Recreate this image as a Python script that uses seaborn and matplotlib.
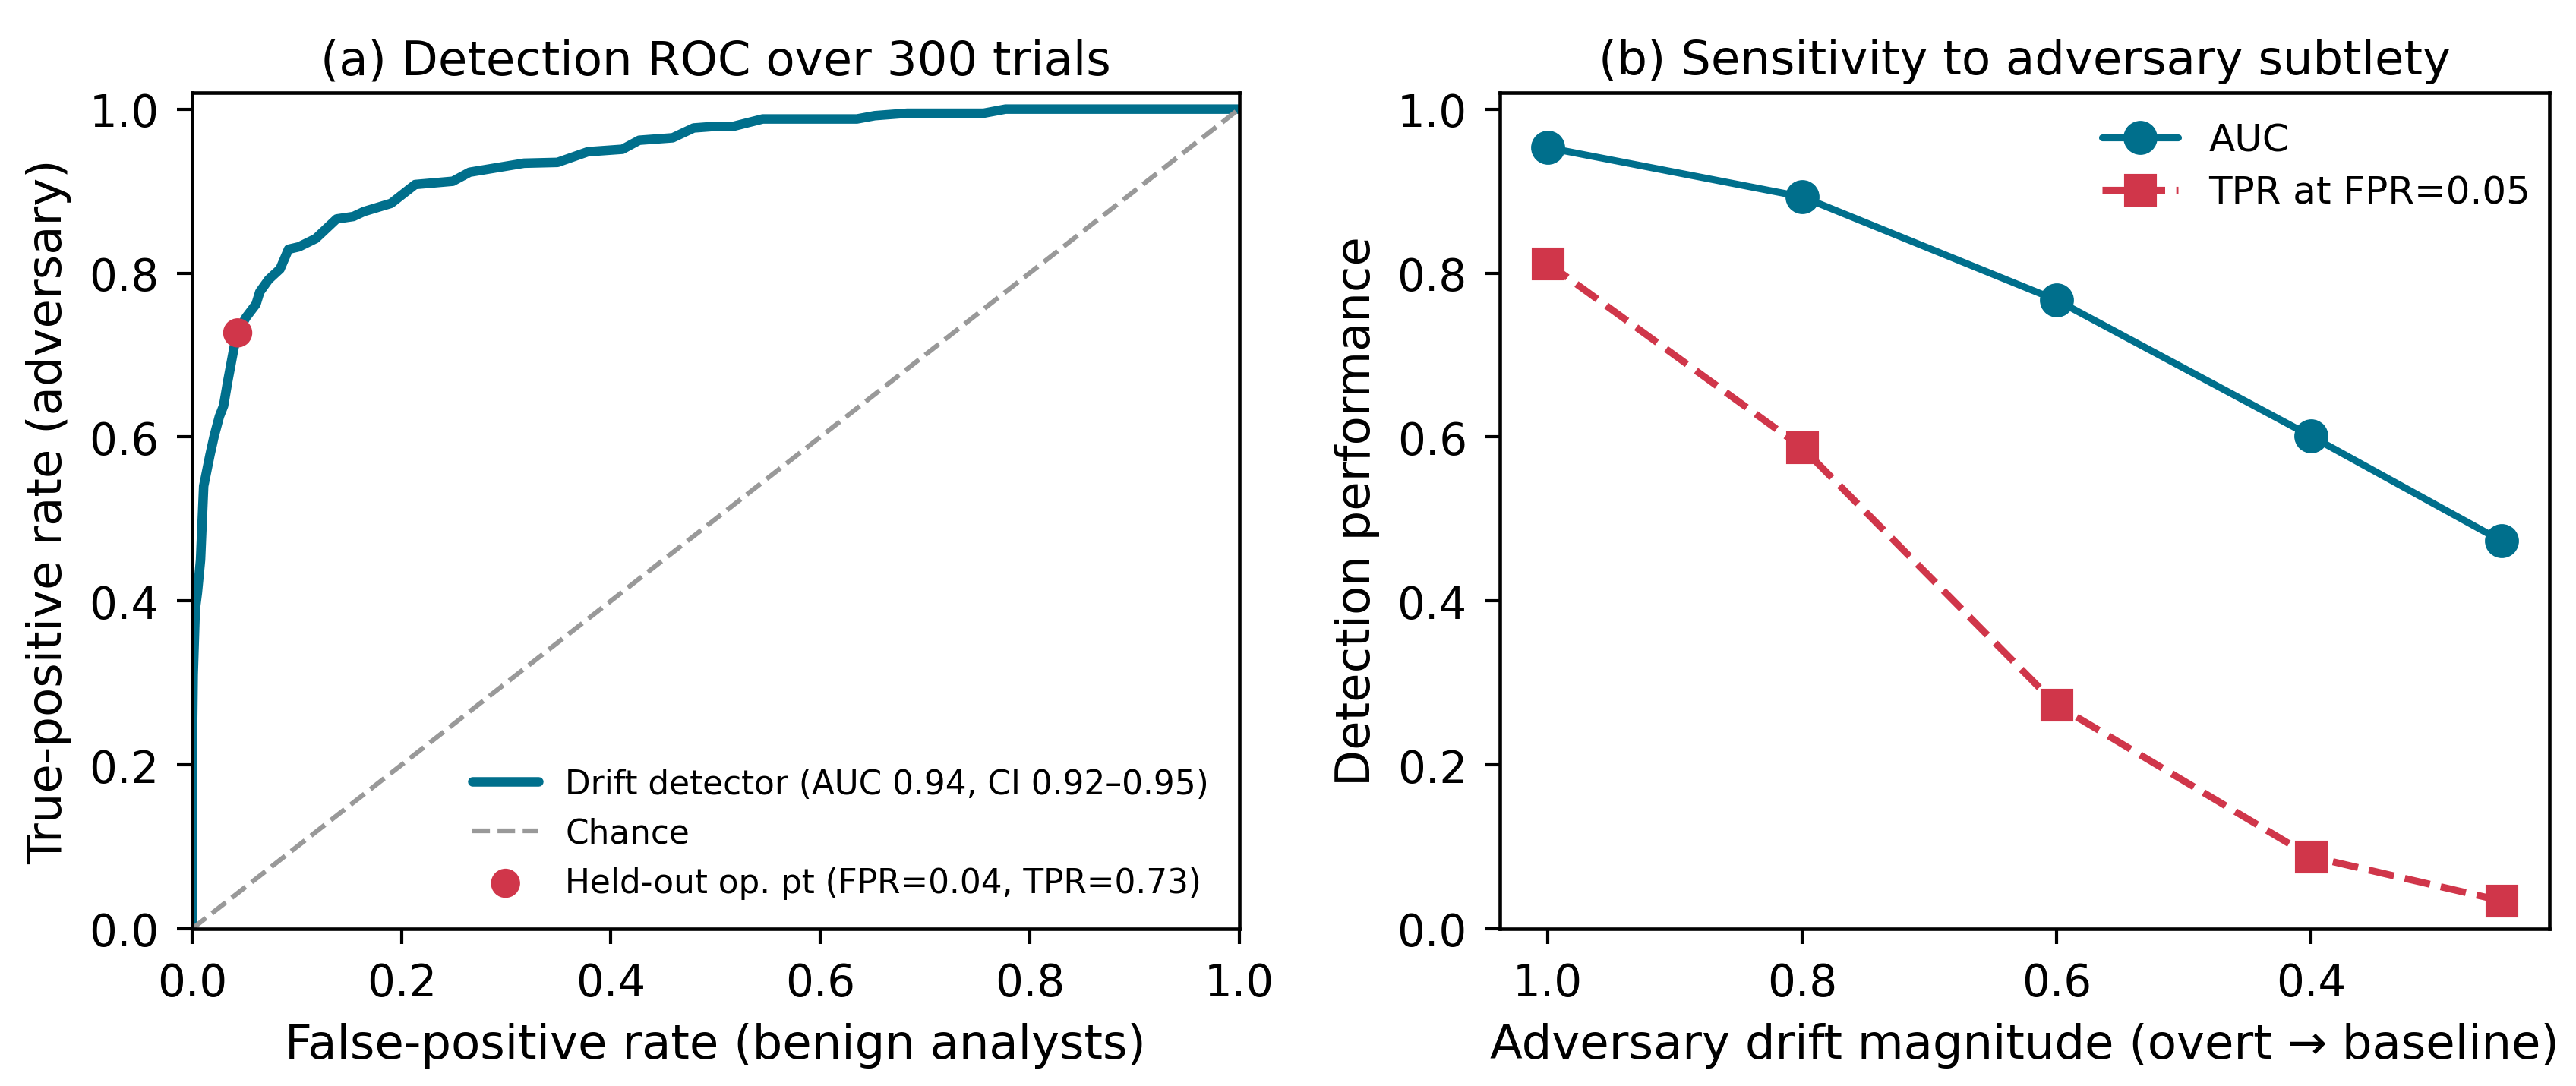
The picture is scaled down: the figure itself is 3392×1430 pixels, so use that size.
import numpy as np
import pandas as pd
import matplotlib
matplotlib.use("Agg")
import matplotlib.pyplot as plt
import seaborn as sns

# ---- data ----
roc_fpr = [0.0, 0.0, 0.001, 0.003, 0.005, 0.008, 0.011, 0.017, 0.021, 0.026, 0.030, 0.034,
           0.040, 0.0435, 0.0515, 0.061, 0.0646, 0.073, 0.084, 0.092, 0.102, 0.118, 0.138,
           0.154, 0.164, 0.190, 0.213, 0.249, 0.265, 0.317, 0.349, 0.378, 0.411, 0.427,
           0.459, 0.479, 0.500, 0.517, 0.545, 0.635, 0.652, 0.683, 0.756, 0.777, 1.0]
roc_tpr = [0.0, 0.20, 0.31, 0.39, 0.41, 0.45, 0.54, 0.578, 0.601, 0.625, 0.638, 0.668,
           0.709, 0.728, 0.746, 0.762, 0.777, 0.792, 0.805, 0.829, 0.832, 0.842, 0.866,
           0.869, 0.875, 0.885, 0.908, 0.912, 0.923, 0.934, 0.935, 0.948, 0.951, 0.962,
           0.965, 0.977, 0.979, 0.979, 0.988, 0.988, 0.992, 0.995, 0.995, 1.0, 1.0]
chance_x = [0.0, 1.0]
chance_y = [0.0, 1.0]
op_fpr = [0.0435]
op_tpr = [0.727]

drift_mag = [1.0, 0.8, 0.6, 0.4, 0.25]
auc_vals = [0.953, 0.893, 0.767, 0.601, 0.473]
tpr05_vals = [0.812, 0.587, 0.273, 0.088, 0.034]

label_roc = "Drift detector (AUC 0.94, CI 0.92\u20130.95)"
label_chance = "Chance"
label_op = "Held-out op. pt (FPR=0.04, TPR=0.73)"

TEAL = "#006f8c"
RED = "#d0364a"
GRAY = "#999999"

sns.set_style("ticks")
plt.rcParams["font.family"] = ["DejaVu Sans"]
plt.rcParams.update({
    "axes.edgecolor": "black",
    "axes.linewidth": 1.1,
    "xtick.color": "black",
    "ytick.color": "black",
    "xtick.major.size": 4.8,
    "ytick.major.size": 4.8,
    "xtick.major.width": 1.0,
    "ytick.major.width": 1.0,
    "xtick.major.pad": 5.6,
    "ytick.major.pad": 5.6,
    "axes.labelpad": 5.5,
    "axes.labelcolor": "black",
    "text.color": "black",
})

FS = 15.0
TS = 13.9
fig = plt.figure(figsize=(3392 / 300, 1431 / 300), dpi=300)
ax1 = fig.add_axes([0.0746, 0.1447, 0.4064, 0.7693])
ax2 = fig.add_axes([0.5823, 0.1447, 0.4074, 0.7693])

# ---- panel a ----
sns.lineplot(x=roc_fpr, y=roc_tpr, sort=False, estimator=None, color=TEAL, lw=3,
             ax=ax1, label=label_roc)
sns.lineplot(x=chance_x, y=chance_y, color=GRAY, lw=1.5, linestyle="--", ax=ax1,
             label=label_chance)
sns.scatterplot(x=op_fpr, y=op_tpr, color=RED, s=85, edgecolor="none", zorder=5,
                ax=ax1, label=label_op)
ax1.set_xlim(0, 1)
ax1.set_ylim(0, 1.02)
ax1.set_xlabel("False-positive rate (benign analysts)", fontsize=FS)
ax1.set_ylabel("True-positive rate (adversary)", fontsize=FS)
ax1.set_title("(a) Detection ROC over 300 trials", fontsize=FS)
ax1.tick_params(labelsize=TS)
ax1.legend(loc="lower right", frameon=False, fontsize=10.5)

# ---- panel b ----
sns.lineplot(x=drift_mag, y=auc_vals, color=TEAL, lw=2.2, marker="o", markersize=10,
             markeredgecolor=TEAL, ax=ax2, label="AUC")
sns.lineplot(x=drift_mag, y=tpr05_vals, color=RED, lw=2.2, linestyle="--", marker="s",
             markersize=9.5, markeredgecolor=RED, ax=ax2, label="TPR at FPR=0.05")
ax2.set_xlim(1.0375, 0.2125)
ax2.set_ylim(0, 1.02)
ax2.set_xticks([1.0, 0.8, 0.6, 0.4])
ax2.set_xlabel("Adversary drift magnitude (overt \u2192 baseline)", fontsize=FS)
ax2.set_ylabel("Detection performance", fontsize=FS)
ax2.set_title("(b) Sensitivity to adversary subtlety", fontsize=FS)
ax2.tick_params(labelsize=TS)
ax2.legend(loc="upper right", frameon=False, fontsize=12, labelspacing=0.43,
           bbox_to_anchor=(1.0145, 1.006))

for ax in (ax1, ax2):
    for s in ax.spines.values():
        s.set_visible(True)

fig.savefig("out.png", dpi=300)
